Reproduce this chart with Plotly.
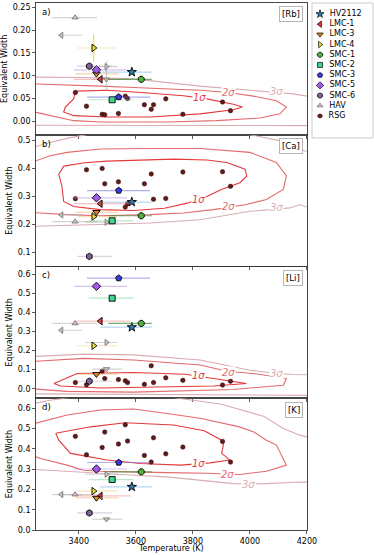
import plotly.graph_objects as go
from plotly.subplots import make_subplots

# ---------------- data ----------------
LINE_NAMES = ["[Rb]", "[Ca]", "[Li]", "[K]"]
PANEL_TAGS = ["a)", "b)", "c)", "d)"]
Y_RANGES = [[-0.03, 0.26], [0.05, 0.52], [-0.05, 0.64], [0.0, 0.65]]
Y_DTICKS = [0.05, 0.1, 0.1, 0.1]
Y_FORMATS = [".2f", ".1f", ".1f", ".1f"]
X_TICKS = [3400, 3600, 3800, 4000, 4200]
X_TITLE = "Temperature (K)"
Y_TITLE = "Equivalent Width"

# red supergiant comparison sample
RSG_TEMP = [3388, 3427, 3482, 3491, 3539, 3563, 3571, 3630, 3654, 3662, 3705, 3765, 3904, 3932]
RSG_RB = [0.063, 0.033, 0.015, 0.014, 0.017, 0.055, 0.050, 0.036, 0.026, 0.036, 0.049, 0.015, 0.042, 0.023]
RSG_CA = [0.292, 0.395, 0.400, 0.345, 0.352, 0.262, 0.274, 0.345, 0.380, 0.290, 0.293, 0.387, 0.388, 0.336]
RSG_LI = [0.032, 0.021, 0.092, 0.053, 0.048, 0.042, 0.032, 0.023, 0.120, 0.032, 0.057, 0.044, 0.019, 0.039]
RSG_K = [0.462, 0.371, 0.407, 0.483, 0.424, 0.519, 0.439, 0.368, 0.335, 0.455, 0.376, 0.409, 0.437, 0.335]

# programme stars
STAR_NAMES = ["HV2112", "LMC-1", "LMC-3", "LMC-4", "SMC-1", "SMC-2", "SMC-3", "SMC-5", "SMC-6"]
STAR_SYMBOLS = ["star", "triangle-left", "triangle-down", "triangle-right", "octagon",
                "square", "pentagon", "diamond", "hexagon"]
STAR_COLORS = ["#2f7fb5", "#e0403a", "#de8a22", "#f0e23c", "#4fae3c",
               "#40d88c", "#3a3ae6", "#a558f0", "#84609a"]
STAR_ERR_COLORS = ["rgba(120,180,225,0.55)", "rgba(235,120,120,0.45)", "rgba(235,165,90,0.45)",
                   "rgba(230,210,120,0.5)", "rgba(70,150,60,0.75)", "rgba(120,210,150,0.5)",
                   "rgba(110,110,225,0.55)", "rgba(175,135,225,0.5)", "rgba(185,165,195,0.5)"]
STAR_SIZES = [7, 6.5, 6.5, 6.5, 6.5, 6, 6.5, 6.5, 6.5]
STAR_TEMP = [3586, 3476, 3462, 3452, 3619, 3517, 3540, 3462, 3437]
STAR_TERR_LO = [110, 93, 73, 58, 115, 82, 111, 79, 43]
STAR_TERR_HI = [70, 105, 78, 82, 37, 75, 110, 107, 80]
STAR_RB = [0.108, 0.092, 0.104, 0.161, 0.092, 0.047, 0.053, 0.113, 0.121]
STAR_CA = [0.280, 0.274, 0.244, 0.228, 0.231, 0.213, 0.321, 0.295, 0.086]
STAR_LI = [0.322, 0.354, 0.076, 0.225, 0.342, 0.474, 0.579, 0.536, 0.039]
STAR_K = [0.213, 0.168, 0.158, 0.192, 0.287, 0.249, 0.333, 0.301, 0.084]
STAR_RB_ERR = [0.0, 0.0, 0.0, 0.029, 0.004, 0.0, 0.0, 0.0, 0.0]

# HAV comparison objects (grey)
HAV_SYMBOLS = ["triangle-up", "triangle-left", "triangle-right", "triangle-down"]
HAV_TEMP = [3387, 3339, 3497, 3497]
HAV_TERR_LO = [80, 10, 75, 50]
HAV_TERR_HI = [77, 73, 40, 56]
HAV_RB = [0.228, 0.189, 0.120, 0.092]
HAV_CA = [0.210, 0.234, 0.208, None]
HAV_LI = [0.342, 0.306, 0.242, 0.103]
HAV_K = [0.175, 0.175, 0.275, 0.053]
HAV_RB_ERR = [0.0, 0.0, 0.012, 0.025]

# density contours (1, 2, 3 sigma)
RB_1S_T = [3388, 3430, 3499, 3620, 3767, 3849, 3942, 3974, 3942, 3825, 3650, 3499, 3382, 3347, 3353, 3382, 3388]
RB_1S_W = [0.066, 0.067, 0.068, 0.063, 0.056, 0.049, 0.037, 0.031, 0.025, 0.016, 0.009, 0.009, 0.012, 0.020, 0.031, 0.049, 0.066]
RB_2S_T = [3230, 3359, 3476, 3592, 3709, 3825, 3924, 4012, 4093, 4128, 4105, 4035, 3883, 3709, 3476, 3382, 3266, 3230]
RB_2S_W = [0.082, 0.080, 0.077, 0.074, 0.071, 0.068, 0.063, 0.055, 0.045, 0.031, 0.016, 0.007, 0.001, -0.002, -0.002, 0.001, 0.017, 0.022]
RB_3S_T = [3230, 3417, 3592, 3709, 3825, 3942, 4035, 4093, 4151, 4230, 4230, 3230]
RB_3S_W = [0.097, 0.096, 0.093, 0.085, 0.077, 0.071, 0.067, 0.063, 0.060, 0.052, -0.010, -0.009]

CA_1S_T = [3347, 3420, 3499, 3620, 3732, 3850, 3919, 3983, 3989, 3965, 3900, 3849, 3780, 3700, 3592, 3476, 3382, 3347, 3341, 3330, 3347]
CA_1S_W = [0.408, 0.420, 0.426, 0.430, 0.433, 0.430, 0.421, 0.397, 0.372, 0.349, 0.325, 0.300, 0.276, 0.258, 0.250, 0.253, 0.264, 0.282, 0.336, 0.379, 0.408]
CA_2S_T = [3230, 3300, 3359, 3476, 3650, 3825, 4000, 4093, 4128, 4117, 4058, 3988, 3872, 3767, 3650, 3476, 3359, 3230]
CA_2S_W = [0.420, 0.445, 0.457, 0.469, 0.471, 0.471, 0.457, 0.421, 0.373, 0.325, 0.289, 0.271, 0.253, 0.241, 0.235, 0.231, 0.235, 0.243]
CA_3S_T = [3230, 3278, 3359, 3450, 3600, 3800, 4000, 4100, 4140, 4175, 4230, 4230, 4175, 4140, 4000, 3825, 3650, 3476, 3301, 3230]
CA_3S_W = [0.470, 0.487, 0.507, 0.525, 0.535, 0.535, 0.520, 0.500, 0.487, 0.469, 0.450, 0.250, 0.271, 0.259, 0.247, 0.217, 0.205, 0.199, 0.193, 0.193]

LI_1S_T = [3313, 3340, 3394, 3592, 3773, 3872, 3988, 3872, 3650, 3476, 3336, 3313]
LI_1S_W = [0.027, 0.045, 0.080, 0.085, 0.076, 0.053, 0.027, 0.014, 0.009, 0.004, 0.014, 0.027]
LI_2S_T = [3230, 3417, 3592, 3825, 3924, 4012, 4128, 4117, 3942, 3592, 3359, 3230]
LI_2S_W = [0.142, 0.159, 0.150, 0.124, 0.090, 0.080, 0.053, 0.018, -0.004, -0.018, -0.014, 0.000]
LI_3S_T = [3230, 3417, 3592, 3825, 4000, 4093, 4151, 4230, 4230, 3230]
LI_3S_W = [0.168, 0.181, 0.177, 0.150, 0.097, 0.080, 0.074, 0.072, -0.035, -0.027]

K_1S_T = [3319, 3441, 3563, 3732, 3840, 3901, 3907, 3901, 3930, 3860, 3756, 3616, 3499, 3371, 3330, 3319]
K_1S_W = [0.477, 0.509, 0.529, 0.518, 0.490, 0.443, 0.419, 0.378, 0.345, 0.331, 0.320, 0.328, 0.345, 0.378, 0.443, 0.477]
K_2S_T = [3230, 3359, 3476, 3592, 3709, 3825, 3960, 4012, 4058, 4093, 4128, 4058, 3965, 3849, 3709, 3592, 3476, 3417, 3359, 3266, 3230]
K_2S_W = [0.520, 0.567, 0.592, 0.597, 0.575, 0.551, 0.510, 0.485, 0.443, 0.419, 0.320, 0.290, 0.274, 0.280, 0.283, 0.285, 0.290, 0.295, 0.320, 0.353, 0.370]
K_3S_T = [3230, 3300, 3400, 3500, 3700, 3900, 4050, 4117, 4175, 4230, 4230, 4175, 4058, 3994, 3942, 3825, 3709, 3592, 3476, 3359, 3230]
K_3S_W = [0.620, 0.640, 0.660, 0.670, 0.660, 0.620, 0.560, 0.501, 0.468, 0.450, 0.235, 0.237, 0.229, 0.226, 0.229, 0.246, 0.262, 0.270, 0.279, 0.290, 0.300]

SIGMA_TEXT = ["1σ", "2σ", "3σ"]
SIGMA_COLORS = ["#e5383b", "#e36a6d", "#d9adb2"]
LABEL_T = [[3825, 3924, 4093], [3820, 3924, 4093], [3819, 3924, 4093], [3820, 3921, 3994]]
LABEL_W = [[0.052, 0.063, 0.065], [0.289, 0.265, 0.259], [0.069, 0.085, 0.080], [0.328, 0.272, 0.224]]

# legend entries (order as in the figure key)
KEY_NAMES = STAR_NAMES + ["HAV", "RSG"]

# ---------------- figure ----------------
RSG_BY_PANEL = [RSG_RB, RSG_CA, RSG_LI, RSG_K]
STAR_BY_PANEL = [STAR_RB, STAR_CA, STAR_LI, STAR_K]
HAV_BY_PANEL = [HAV_RB, HAV_CA, HAV_LI, HAV_K]
CONTOURS = [
    [(RB_1S_T, RB_1S_W), (RB_2S_T, RB_2S_W), (RB_3S_T, RB_3S_W)],
    [(CA_1S_T, CA_1S_W), (CA_2S_T, CA_2S_W), (CA_3S_T, CA_3S_W)],
    [(LI_1S_T, LI_1S_W), (LI_2S_T, LI_2S_W), (LI_3S_T, LI_3S_W)],
    [(K_1S_T, K_1S_W), (K_2S_T, K_2S_W), (K_3S_T, K_3S_W)],
]

FONT = "DejaVu Sans"
RSG_COLOR = "#5e1b1b"
HAV_FILL = "#c4c4c4"
HAV_EDGE = "#6f6f6f"
HAV_ERR = "rgba(175,175,175,0.55)"

fig = make_subplots(rows=4, cols=1, shared_xaxes=True, vertical_spacing=0)

for p in range(4):
    row = p + 1
    for lev in range(3):
        t, w = CONTOURS[p][lev]
        fig.add_trace(go.Scatter(x=t, y=w, mode="lines", showlegend=False, hoverinfo="skip",
                                 line=dict(color=SIGMA_COLORS[lev], width=1.1)), row=row, col=1)
    fig.add_trace(go.Scatter(
        x=RSG_TEMP, y=RSG_BY_PANEL[p], mode="markers", name="RSG", showlegend=False,
        marker=dict(symbol="circle", size=4.5, color=RSG_COLOR, line=dict(color="#3a0d0d", width=0.5))),
        row=row, col=1)
    hav_err = HAV_RB_ERR if p == 0 else [0.0] * len(HAV_TEMP)
    fig.add_trace(go.Scatter(
        x=HAV_TEMP, y=HAV_BY_PANEL[p], mode="markers", name="HAV", showlegend=False,
        error_x=dict(type="data", symmetric=False, array=HAV_TERR_HI, arrayminus=HAV_TERR_LO,
                     color=HAV_ERR, thickness=1.2, width=0),
        error_y=dict(type="data", array=hav_err, color="rgba(175,175,175,0.6)", thickness=1.2, width=0),
        marker=dict(symbol=HAV_SYMBOLS, size=5.5, color=HAV_FILL, line=dict(color=HAV_EDGE, width=0.8))),
        row=row, col=1)
    for i, name in enumerate(STAR_NAMES):
        yerr = STAR_RB_ERR[i] if p == 0 else 0.0
        ycol = "rgba(245,230,0,0.95)" if i == 3 else STAR_ERR_COLORS[i]
        fig.add_trace(go.Scatter(
            x=[STAR_TEMP[i]], y=[STAR_BY_PANEL[p][i]], mode="markers", name=name, showlegend=False,
            error_x=dict(type="data", symmetric=False, array=[STAR_TERR_HI[i]],
                         arrayminus=[STAR_TERR_LO[i]], color=STAR_ERR_COLORS[i], thickness=1.2, width=0),
            error_y=dict(type="data", array=[yerr], color=ycol, thickness=1.2, width=0),
            marker=dict(symbol=STAR_SYMBOLS[i], size=STAR_SIZES[i], color=STAR_COLORS[i],
                        line=dict(color="black", width=0.9))),
            row=row, col=1)

    xs = "" if p == 0 else str(row)
    for lev in range(3):
        fig.add_annotation(x=LABEL_T[p][lev], y=LABEL_W[p][lev], xref="x" + xs, yref="y" + xs,
                           text="<i>" + SIGMA_TEXT[lev] + "</i>", showarrow=False,
                           font=dict(family=FONT, size=10, color=SIGMA_COLORS[lev]),
                           bgcolor="white", borderpad=0)
    fig.add_annotation(x=0.015, y=0.985, xref="x" + xs + " domain", yref="y" + xs + " domain",
                       text=PANEL_TAGS[p], showarrow=False, xanchor="left", yanchor="top",
                       font=dict(family=FONT, size=8.5, color="black"))
    fig.add_annotation(x=0.985, y=0.975, xref="x" + xs + " domain", yref="y" + xs + " domain",
                       text=LINE_NAMES[p], showarrow=False, xanchor="right", yanchor="top",
                       font=dict(family=FONT, size=8.5, color="black"),
                       bordercolor="#b5b5b5", borderwidth=1, borderpad=2, bgcolor="white")

    fig.update_yaxes(range=Y_RANGES[p], dtick=Y_DTICKS[p], tick0=0, tickformat=Y_FORMATS[p],
                     title=dict(text=Y_TITLE, standoff=3,
                                font=dict(family=FONT, size=8, color="black")),
                     row=row, col=1)

MAIN_DOMAIN = [0.0, 0.804]
fig.update_xaxes(domain=MAIN_DOMAIN, range=[3250, 4200], tickvals=X_TICKS, ticks="outside", ticklen=3,
                 tickwidth=0.8, tickcolor="#333", showline=True, linecolor="#333", linewidth=0.9,
                 mirror=True, showgrid=False, zeroline=False,
                 tickfont=dict(family=FONT, size=8, color="black"))
fig.update_yaxes(ticks="outside", ticklen=3, tickwidth=0.8, tickcolor="#333", showline=True,
                 linecolor="#333", linewidth=0.9, mirror=True, showgrid=False, zeroline=False,
                 tickfont=dict(family=FONT, size=8, color="black"))

# x-axis title (placed just under the tick labels of the bottom panel)
fig.add_annotation(x=0.5, y=0, xref="x4 domain", yref="paper", yanchor="top", yshift=-12,
                   text=X_TITLE, showarrow=False, font=dict(family=FONT, size=8, color="black"))

# ---------------- key (drawn on its own small axis) ----------------
key_symbols = STAR_SYMBOLS + ["triangle-up", "circle"]
key_colors = STAR_COLORS + [HAV_FILL, RSG_COLOR]
key_edges = ["black"] * len(STAR_NAMES) + [HAV_EDGE, "#3a0d0d"]
key_err = STAR_ERR_COLORS + [HAV_ERR, "rgba(94,27,27,0.6)"]
key_sizes = [6, 5.5, 5.5, 5.5, 5.5, 5, 5.5, 5.5, 5.5, 5, 4]
for k, name in enumerate(KEY_NAMES):
    fig.add_trace(go.Scatter(
        x=[0], y=[name], mode="markers+text", text=["  " + name], textposition="middle right",
        textfont=dict(family=FONT, size=8, color="black"), showlegend=False, hoverinfo="skip",
        xaxis="x5", yaxis="y5", cliponaxis=False,
        error_x=dict(type="constant", value=3.5, color=key_err[k], thickness=1, width=0),
        error_y=dict(type="constant", value=0.35, color=key_err[k], thickness=1, width=0),
        marker=dict(symbol=key_symbols[k], size=key_sizes[k], color=key_colors[k],
                    line=dict(color=key_edges[k], width=0.7))))

fig.update_layout(
    xaxis5=dict(domain=[0.819, 1.0], anchor="y5", range=[-8, 53], visible=False, fixedrange=True),
    yaxis5=dict(domain=[0.744, 1.0], anchor="x5", type="category", categoryarray=KEY_NAMES,
                range=[12.16, -1.08], visible=False, fixedrange=True),
)
fig.add_shape(type="rect", xref="x5 domain", yref="y5 domain", x0=0, x1=1, y0=0, y1=1,
              line=dict(color="#cccccc", width=1), fillcolor="rgba(0,0,0,0)", layer="below")

fig.update_layout(
    width=374, height=555, margin=dict(l=36, r=1, t=3, b=25, autoexpand=False),
    plot_bgcolor="white", paper_bgcolor="white",
    font=dict(family=FONT, size=8, color="black"),
    showlegend=False, hovermode=False,
)

# remove the browser's default page margin so the figure fills the window exactly
fig.write_html("out.html", config={"displayModeBar": False, "staticPlot": True},
               post_script="document.body.style.margin='0';document.body.style.overflow='hidden';")
